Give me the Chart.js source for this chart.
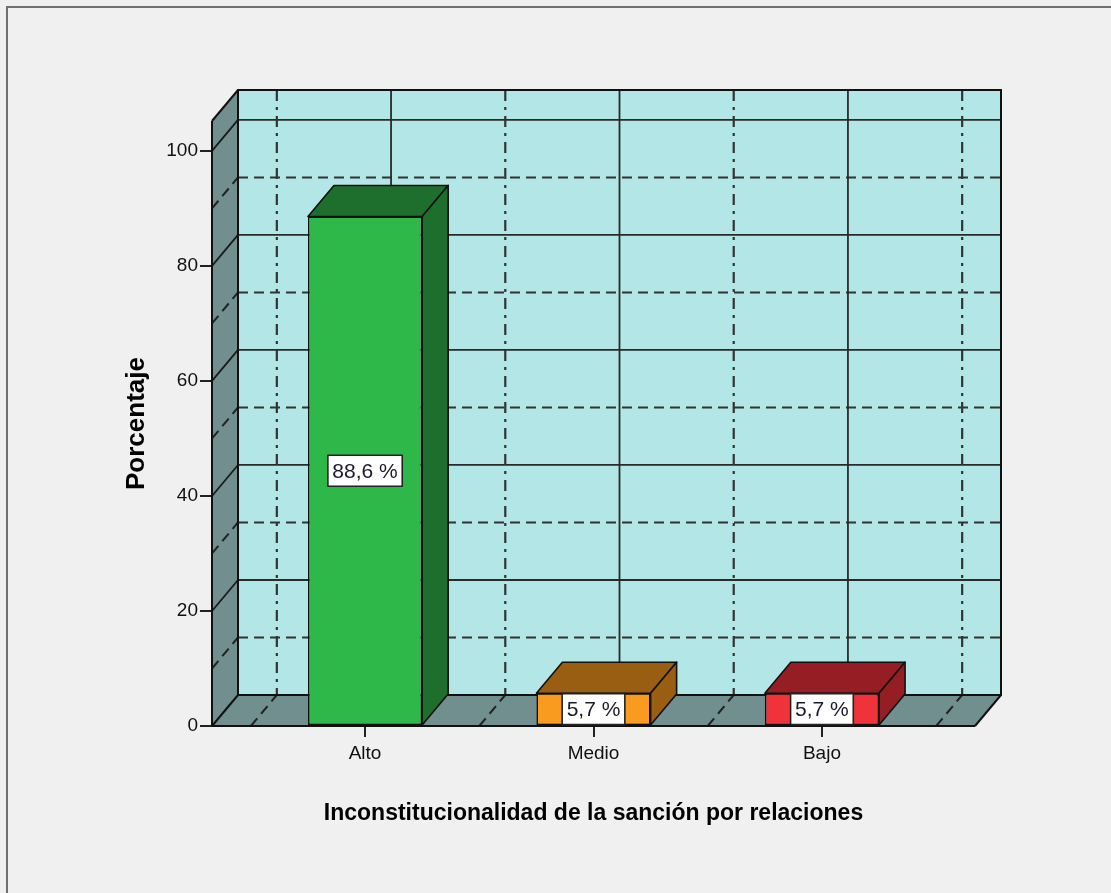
<!DOCTYPE html>
<html>
<head>
<meta charset="utf-8">
<script src="https://cdn.jsdelivr.net/npm/chart.js@4.4.1/dist/chart.umd.min.js"></script>
<style>
    html, body { margin: 0; padding: 0; background: #f0f0f0; overflow: hidden; }
    #frame { position: absolute; left: 6px; top: 6px; width: 1200px; height: 1000px; border: 2px solid #707070; }
    #chart { position: absolute; left: 0; top: 0; }
</style>
</head>
<body>
<div id="frame"></div>
<canvas id="chart" width="1111" height="893"></canvas>
<script>
// data
const categories = ['Alto', 'Medio', 'Bajo'];
const percentages = [88.6, 5.7, 5.7];
const yTicks = [0, 20, 40, 60, 80, 100];
const yMajorGrid = [20, 40, 60, 80, 100];
const yMinorGrid = [10, 30, 50, 70, 90];
const xHalfGrid = [-0.5, 0.5, 1.5, 2.5];

const frontColors = ['#2eb84a', '#f89b1f', '#f0323b'];
const darkColors = ['#1e6e2e', '#9a5e12', '#951e24'];

// 3D depth of the box (pixels)
const DX = 26, DY = -31;
const WALL = '#b3e6e6';
const SIDE = '#718f8f';

Chart.defaults.font.family = '"Liberation Sans", Arial, sans-serif';
Chart.defaults.color = '#111';

function poly(ctx, pts, fill, stroke, lw) {
    ctx.beginPath();
    ctx.moveTo(pts[0][0], pts[0][1]);
    for (let i = 1; i < pts.length; i++) ctx.lineTo(pts[i][0], pts[i][1]);
    ctx.closePath();
    if (fill) { ctx.fillStyle = fill; ctx.fill(); }
    if (stroke) { ctx.strokeStyle = stroke; ctx.lineWidth = lw || 1; ctx.stroke(); }
}

function line(ctx, x1, y1, x2, y2, dash, color, lw) {
    ctx.beginPath();
    ctx.setLineDash(dash || []);
    ctx.strokeStyle = color || '#3a3a3a';
    ctx.lineWidth = lw || 1.5;
    ctx.moveTo(x1, y1);
    ctx.lineTo(x2, y2);
    ctx.stroke();
    ctx.setLineDash([]);
}

const box3d = {
    id: 'box3d',
    beforeDatasetsDraw(chart) {
        const {ctx, chartArea: a, scales: {x, y}} = chart;
        const L = a.left, R = a.right, T = a.top, B = a.bottom;
        ctx.save();
        // walls
        ctx.fillStyle = WALL;
        ctx.fillRect(L + DX, T + DY, R - L, B - T);
        poly(ctx, [[L, T], [L + DX, T + DY], [L + DX, B + DY], [L, B]], SIDE);
        poly(ctx, [[L, B], [L + DX, B + DY], [R + DX, B + DY], [R, B]], SIDE);

        // horizontal grid on back and left wall
        yMinorGrid.forEach(v => {
            const py = y.getPixelForValue(v);
            line(ctx, L + DX, py + DY, R + DX, py + DY, [10, 6], '#333', 2);
            line(ctx, L, py, L + DX, py + DY, [10, 6], '#222', 2);
        });
        yMajorGrid.forEach(v => {
            const py = y.getPixelForValue(v);
            line(ctx, L + DX, py + DY, R + DX, py + DY, [], '#2a2a2a', 1.8);
            line(ctx, L, py, L + DX, py + DY, [], '#1a1a1a', 1.8);
        });

        // vertical grid on back wall, depth lines on floor
        xHalfGrid.forEach(v => {
            const px = x.getPixelForValue(v);
            line(ctx, px + DX, T + DY, px + DX, B + DY, [11, 6, 3, 6], '#333', 2.2);
            line(ctx, px, B, px + DX, B + DY, [10, 6], '#222', 2);
        });
        categories.forEach((c, i) => {
            const px = x.getPixelForValue(i);
            line(ctx, px + DX, T + DY, px + DX, B + DY, [], '#2a2a2a', 1.8);
        });

        // box edges
        ctx.strokeStyle = '#111';
        ctx.lineWidth = 2;
        ctx.strokeRect(L + DX, T + DY, R - L, B - T);
        line(ctx, L, T, L, B, [], '#111', 2);
        line(ctx, L, T, L + DX, T + DY, [], '#111', 2);
        line(ctx, L, B, R, B, [], '#111', 2.2);
        line(ctx, R, B, R + DX, B + DY, [], '#111', 2);
        line(ctx, L, B, L + DX, B + DY, [], '#111', 2);
        ctx.restore();
    },
    afterDatasetsDraw(chart) {
        const {ctx} = chart;
        const meta = chart.getDatasetMeta(0);
        ctx.save();
        meta.data.forEach((bar, i) => {
            const {x: cx, y: top, base, width} = bar.getProps(['x', 'y', 'base', 'width'], true);
            const l = cx - width / 2, r = cx + width / 2;
            ctx.lineJoin = 'round';
            poly(ctx, [[l, top], [l + DX, top + DY], [r + DX, top + DY], [r, top]], darkColors[i], '#111', 1.6);
            poly(ctx, [[r, top], [r + DX, top + DY], [r + DX, base + DY], [r, base]], darkColors[i], '#111', 1.6);
        });
        // value labels
        ctx.font = '21px "Liberation Sans", Arial, sans-serif';
        ctx.textAlign = 'center';
        ctx.textBaseline = 'middle';
        meta.data.forEach((bar, i) => {
            const {x: cx, y: top, base} = bar.getProps(['x', 'y', 'base'], true);
            const text = percentages[i].toFixed(1).replace('.', ',') + ' %';
            const w = ctx.measureText(text).width + 9;
            const h = 31;
            const cy = (top + base) / 2;
            ctx.fillStyle = '#fff';
            ctx.fillRect(cx - w / 2, cy - h / 2, w, h);
            ctx.strokeStyle = '#222';
            ctx.lineWidth = 1.6;
            ctx.strokeRect(cx - w / 2, cy - h / 2, w, h);
            ctx.fillStyle = '#1a1a2a';
            ctx.fillText(text, cx, cy + 1);
        });
        ctx.restore();
    }
};

new Chart(document.getElementById('chart'), {
    type: 'bar',
    data: {
        datasets: [{
            data: percentages.map((v, i) => ({x: i, y: v})),
            backgroundColor: frontColors,
            borderColor: '#111',
            borderWidth: 1.6,
            borderSkipped: false,
            categoryPercentage: 0.5,
            barPercentage: 1
        }]
    },
    options: {
        responsive: false,
        animation: false,
        layout: {
            padding: {top: 121, right: 136, left: 0, bottom: 0}
        },
        plugins: {
            legend: {display: false},
            tooltip: {enabled: false}
        },
        scales: {
            x: {
                type: 'linear',
                bounds: 'data',
                offset: false,
                min: -0.67,
                max: 2.67,
                afterFit: (s) => { s.height = 167; },
                afterBuildTicks: (s) => { s.ticks = categories.map((c, i) => ({value: i})); },
                border: {display: false},
                grid: {offset: false, drawOnChartArea: false, tickLength: 11, color: '#222', lineWidth: 2},
                ticks: {
                    autoSkip: false,
                    maxRotation: 0,
                    padding: 5,
                    font: {size: 19},
                    callback: (v) => categories[v]
                },
                title: {
                    display: true,
                    text: 'Inconstitucionalidad de la sanción por relaciones',
                    color: '#000',
                    font: {size: 23, weight: 'bold'},
                    padding: {top: 0, bottom: 66}
                }
            },
            y: {
                bounds: 'data',
                min: 0,
                max: 105.2,
                afterFit: (s) => { s.width = 212; },
                afterBuildTicks: (s) => { s.ticks = yTicks.map(v => ({value: v})); },
                border: {display: false},
                grid: {drawOnChartArea: false, tickLength: 12, color: '#222', lineWidth: 2},
                ticks: {
                    padding: 2,
                    font: {size: 19}
                },
                title: {
                    display: true,
                    text: 'Porcentaje',
                    color: '#000',
                    font: {size: 26, weight: 'bold'},
                    padding: {top: 121, bottom: 0}
                }
            }
        }
    },
    plugins: [box3d]
});
</script>
</body>
</html>
